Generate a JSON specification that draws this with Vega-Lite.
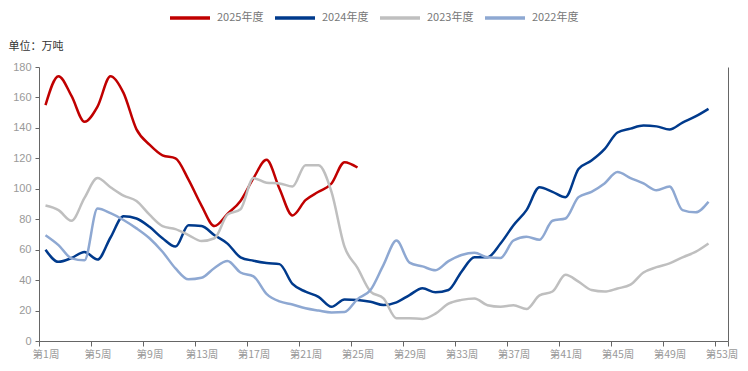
{
  "$schema": "https://vega.github.io/schema/vega-lite/v6.json",
  "width": 689,
  "height": 274,
  "autosize": {"type": "none"},
  "padding": {"left": 39, "top": 67, "right": 20, "bottom": 30},
  "background": "white",
  "config": {"view": {"stroke": null}, "font": "Noto Sans CJK SC"},
  "data": {"values": [
    {"year":"2025年度","week":1,"value":155},{"year":"2025年度","week":2,"value":174},{"year":"2025年度","week":3,"value":161},{"year":"2025年度","week":4,"value":144},{"year":"2025年度","week":5,"value":154},{"year":"2025年度","week":6,"value":174},{"year":"2025年度","week":7,"value":163},{"year":"2025年度","week":8,"value":139},{"year":"2025年度","week":9,"value":129},{"year":"2025年度","week":10,"value":122},{"year":"2025年度","week":11,"value":120},{"year":"2025年度","week":12,"value":106},{"year":"2025年度","week":13,"value":89},{"year":"2025年度","week":14,"value":75.5},{"year":"2025年度","week":15,"value":83.5},{"year":"2025年度","week":16,"value":92},{"year":"2025年度","week":17,"value":107},{"year":"2025年度","week":18,"value":119},{"year":"2025年度","week":19,"value":100},{"year":"2025年度","week":20,"value":82.5},{"year":"2025年度","week":21,"value":92.5},{"year":"2025年度","week":22,"value":98},{"year":"2025年度","week":23,"value":103.5},{"year":"2025年度","week":24,"value":117.5},{"year":"2025年度","week":25,"value":114},
    {"year":"2024年度","week":1,"value":60},{"year":"2024年度","week":2,"value":52},{"year":"2024年度","week":3,"value":54.5},{"year":"2024年度","week":4,"value":58.5},{"year":"2024年度","week":5,"value":53.5},{"year":"2024年度","week":6,"value":68},{"year":"2024年度","week":7,"value":82},{"year":"2024年度","week":8,"value":80.5},{"year":"2024年度","week":9,"value":75},{"year":"2024年度","week":10,"value":67.5},{"year":"2024年度","week":11,"value":62},{"year":"2024年度","week":12,"value":76},{"year":"2024年度","week":13,"value":75.5},{"year":"2024年度","week":14,"value":69.5},{"year":"2024年度","week":15,"value":64},{"year":"2024年度","week":16,"value":55},{"year":"2024年度","week":17,"value":52.7},{"year":"2024年度","week":18,"value":51.2},{"year":"2024年度","week":19,"value":50.5},{"year":"2024年度","week":20,"value":37.5},{"year":"2024年度","week":21,"value":32.4},{"year":"2024年度","week":22,"value":29},{"year":"2024年度","week":23,"value":22.5},{"year":"2024年度","week":24,"value":27.3},{"year":"2024年度","week":25,"value":27},{"year":"2024年度","week":26,"value":25.8},{"year":"2024年度","week":27,"value":23.6},{"year":"2024年度","week":28,"value":25.4},{"year":"2024年度","week":29,"value":30.2},{"year":"2024年度","week":30,"value":34.6},{"year":"2024年度","week":31,"value":32},{"year":"2024年度","week":32,"value":33.5},{"year":"2024年度","week":33,"value":45.5},{"year":"2024年度","week":34,"value":55},{"year":"2024年度","week":35,"value":55},{"year":"2024年度","week":36,"value":64},{"year":"2024年度","week":37,"value":76},{"year":"2024年度","week":38,"value":86},{"year":"2024年度","week":39,"value":101},{"year":"2024年度","week":40,"value":98},{"year":"2024年度","week":41,"value":94.5},{"year":"2024年度","week":42,"value":113},{"year":"2024年度","week":43,"value":118.5},{"year":"2024年度","week":44,"value":126},{"year":"2024年度","week":45,"value":137},{"year":"2024年度","week":46,"value":139.5},{"year":"2024年度","week":47,"value":141.5},{"year":"2024年度","week":48,"value":141},{"year":"2024年度","week":49,"value":139},{"year":"2024年度","week":50,"value":143.5},{"year":"2024年度","week":51,"value":147.5},{"year":"2024年度","week":52,"value":152.5},
    {"year":"2023年度","week":1,"value":89},{"year":"2023年度","week":2,"value":86},{"year":"2023年度","week":3,"value":79},{"year":"2023年度","week":4,"value":94},{"year":"2023年度","week":5,"value":107},{"year":"2023年度","week":6,"value":101},{"year":"2023年度","week":7,"value":95.5},{"year":"2023年度","week":8,"value":92},{"year":"2023年度","week":9,"value":83},{"year":"2023年度","week":10,"value":75.5},{"year":"2023年度","week":11,"value":73.5},{"year":"2023年度","week":12,"value":69.6},{"year":"2023年度","week":13,"value":65.7},{"year":"2023年度","week":14,"value":67.5},{"year":"2023年度","week":15,"value":83},{"year":"2023年度","week":16,"value":86.5},{"year":"2023年度","week":17,"value":107},{"year":"2023年度","week":18,"value":104},{"year":"2023年度","week":19,"value":103.5},{"year":"2023年度","week":20,"value":101.5},{"year":"2023年度","week":21,"value":115.5},{"year":"2023年度","week":22,"value":115.5},{"year":"2023年度","week":23,"value":98},{"year":"2023年度","week":24,"value":62},{"year":"2023年度","week":25,"value":48},{"year":"2023年度","week":26,"value":32.5},{"year":"2023年度","week":27,"value":28},{"year":"2023年度","week":28,"value":15},{"year":"2023年度","week":29,"value":15},{"year":"2023年度","week":30,"value":14.5},{"year":"2023年度","week":31,"value":18},{"year":"2023年度","week":32,"value":24.5},{"year":"2023年度","week":33,"value":27},{"year":"2023年度","week":34,"value":28},{"year":"2023年度","week":35,"value":23.5},{"year":"2023年度","week":36,"value":22.5},{"year":"2023年度","week":37,"value":23.5},{"year":"2023年度","week":38,"value":21},{"year":"2023年度","week":39,"value":30},{"year":"2023年度","week":40,"value":32.5},{"year":"2023年度","week":41,"value":43.5},{"year":"2023年度","week":42,"value":39},{"year":"2023年度","week":43,"value":33.5},{"year":"2023年度","week":44,"value":32.5},{"year":"2023年度","week":45,"value":34.5},{"year":"2023年度","week":46,"value":37},{"year":"2023年度","week":47,"value":45},{"year":"2023年度","week":48,"value":48.5},{"year":"2023年度","week":49,"value":51},{"year":"2023年度","week":50,"value":55},{"year":"2023年度","week":51,"value":58.5},{"year":"2023年度","week":52,"value":64},
    {"year":"2022年度","week":1,"value":69.5},{"year":"2022年度","week":2,"value":63},{"year":"2022年度","week":3,"value":54.3},{"year":"2022年度","week":4,"value":53},{"year":"2022年度","week":5,"value":87},{"year":"2022年度","week":6,"value":84},{"year":"2022年度","week":7,"value":79.5},{"year":"2022年度","week":8,"value":74},{"year":"2022年度","week":9,"value":67.5},{"year":"2022年度","week":10,"value":58.6},{"year":"2022年度","week":11,"value":47.7},{"year":"2022年度","week":12,"value":40.5},{"year":"2022年度","week":13,"value":41.5},{"year":"2022年度","week":14,"value":48},{"year":"2022年度","week":15,"value":52.5},{"year":"2022年度","week":16,"value":45},{"year":"2022年度","week":17,"value":42.5},{"year":"2022年度","week":18,"value":31},{"year":"2022年度","week":19,"value":26},{"year":"2022年度","week":20,"value":24},{"year":"2022年度","week":21,"value":21.5},{"year":"2022年度","week":22,"value":20},{"year":"2022年度","week":23,"value":18.8},{"year":"2022年度","week":24,"value":19},{"year":"2022年度","week":25,"value":27.5},{"year":"2022年度","week":26,"value":33.5},{"year":"2022年度","week":27,"value":50},{"year":"2022年度","week":28,"value":66},{"year":"2022年度","week":29,"value":51.5},{"year":"2022年度","week":30,"value":49},{"year":"2022年度","week":31,"value":46.5},{"year":"2022年度","week":32,"value":52.5},{"year":"2022年度","week":33,"value":56.5},{"year":"2022年度","week":34,"value":58},{"year":"2022年度","week":35,"value":55},{"year":"2022年度","week":36,"value":54.5},{"year":"2022年度","week":37,"value":66},{"year":"2022年度","week":38,"value":68.5},{"year":"2022年度","week":39,"value":66.5},{"year":"2022年度","week":40,"value":79},{"year":"2022年度","week":41,"value":80.5},{"year":"2022年度","week":42,"value":94.5},{"year":"2022年度","week":43,"value":98},{"year":"2022年度","week":44,"value":103.5},{"year":"2022年度","week":45,"value":111},{"year":"2022年度","week":46,"value":107},{"year":"2022年度","week":47,"value":103.5},{"year":"2022年度","week":48,"value":99},{"year":"2022年度","week":49,"value":101.5},{"year":"2022年度","week":50,"value":86},{"year":"2022年度","week":51,"value":84.5},{"year":"2022年度","week":52,"value":91.5}
  ]},
  "layer": [
    {
      "mark": {"type": "line", "interpolate": "monotone", "strokeWidth": 2.5},
      "encoding": {
        "x": {
          "field": "week", "type": "quantitative",
          "scale": {"domain": [0.5, 53.5], "nice": false, "zero": false},
          "axis": {
            "values": [0.5, 4.5, 8.5, 12.5, 16.5, 20.5, 24.5, 28.5, 32.5, 36.5, 40.5, 44.5, 48.5, 52.5, 53.5],
            "labelExpr": "datum.value > 53 ? '' : '第' + (datum.value + 0.5) + '周'",
            "labelOffset": 6.5, "labelFlush": false, "labelOverlap": false, "labelBound": false,
            "grid": false, "title": null, "tickSize": 5, "tickColor": "#666666", "domainColor": "#666666",
            "labelColor": "#999999", "labelFontSize": 10.5, "labelPadding": 3
          }
        },
        "y": {
          "field": "value", "type": "quantitative",
          "scale": {"domain": [0, 180], "nice": false},
          "axis": {
            "values": [0, 20, 40, 60, 80, 100, 120, 140, 160, 180],
            "grid": false, "tickSize": 4, "labelPadding": 4, "labelColor": "#999999", "labelFontSize": 11,
            "labelFont": "Liberation Sans",
            "domainColor": "#666666", "tickColor": "#666666",
            "title": "单位：万吨", "titleX": -31, "titleY": -21, "titleAngle": 0, "titleAlign": "left",
            "titleBaseline": "middle", "titleFontWeight": "normal", "titleFontSize": 11, "titleColor": "#333333"
          }
        },
        "color": {
          "field": "year", "type": "nominal",
          "scale": {"domain": ["2025年度", "2024年度", "2023年度", "2022年度"], "range": ["#C00000", "#003A8C", "#BFBFBF", "#8EA8D2"]},
          "legend": {
            "orient": "none", "legendX": 129, "legendY": -71, "direction": "horizontal", "title": null,
            "symbolType": "stroke", "symbolSize": 1600, "symbolStrokeWidth": 3.5,
            "labelFontSize": 11, "labelColor": "#777777", "columnPadding": 4, "labelOffset": 5, "padding": 0
          }
        }
      }
    },
    {
      "mark": {"type": "line", "strokeOpacity": 0},
      "encoding": {
        "x": {"field": "week", "type": "quantitative"},
        "y": {"field": "value", "type": "quantitative", "axis": {"orient": "right", "labels": false, "ticks": false, "title": null, "grid": false, "domainColor": "#666666"}},
        "detail": {"field": "year", "type": "nominal"}
      }
    }
  ],
  "resolve": {"axis": {"y": "independent"}}
}
